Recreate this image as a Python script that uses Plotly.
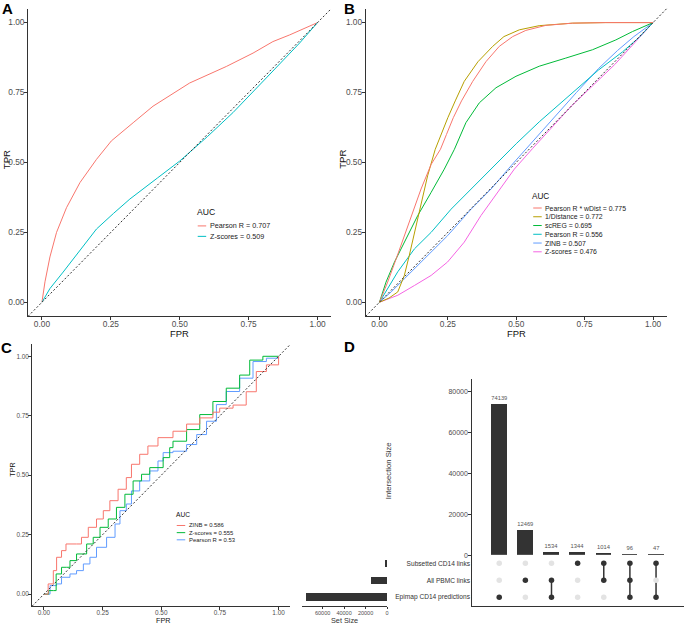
import plotly.graph_objects as go

# ---------------- data ----------------
roc_ticks = [0, 0.25, 0.5, 0.75, 1.0]
roc_tick_labels = ["0.00", "0.25", "0.50", "0.75", "1.00"]

# Panel A
a_names = ["Pearson R", "Z-scores"]
a_auc = ["0.707", "0.509"]
a_colors = ["#F8766D", "#00BFC4"]
a_pearson_fpr = [0, 0.011, 0.029, 0.053, 0.089, 0.138, 0.198, 0.252, 0.331, 0.403, 0.536, 0.669, 0.766, 0.838, 0.899, 1.0]
a_pearson_tpr = [0, 0.073, 0.162, 0.25, 0.338, 0.428, 0.511, 0.577, 0.642, 0.701, 0.784, 0.843, 0.891, 0.932, 0.956, 1.0]
a_zscore_fpr = [0, 0.029, 0.077, 0.14, 0.198, 0.26, 0.319, 0.42, 0.5, 0.6, 0.693, 0.814, 0.935, 1.0]
a_zscore_tpr = [0, 0.049, 0.108, 0.19, 0.262, 0.318, 0.369, 0.445, 0.505, 0.592, 0.678, 0.802, 0.927, 1.0]

# Panel B
b_names = ["Pearson R * wDist", "1/Distance", "scREG", "Pearson R", "ZINB", "Z-scores"]
b_auc = ["0.775", "0.772", "0.695", "0.556", "0.507", "0.476"]
b_colors = ["#F8766D", "#B79F00", "#00BA38", "#00BFC4", "#619CFF", "#F564E3"]
b_wdist_fpr = [0, 0.030, 0.061, 0.091, 0.122, 0.152, 0.189, 0.223, 0.245, 0.27, 0.30, 0.341, 0.389, 0.438, 0.487, 0.535, 0.608, 0.706, 0.827, 1.0]
b_wdist_tpr = [0, 0.072, 0.155, 0.238, 0.321, 0.405, 0.493, 0.547, 0.60, 0.66, 0.72, 0.79, 0.86, 0.915, 0.95, 0.972, 0.99, 0.998, 1.0, 1.0]
b_dist_fpr = [0, 0.035, 0.067, 0.091, 0.109, 0.128, 0.152, 0.176, 0.204, 0.225, 0.25, 0.277, 0.31, 0.36, 0.414, 0.455, 0.511, 0.584, 0.706, 0.827, 1.0]
b_dist_tpr = [0, 0.015, 0.037, 0.096, 0.167, 0.25, 0.357, 0.452, 0.547, 0.60, 0.66, 0.72, 0.79, 0.86, 0.915, 0.95, 0.974, 0.989, 0.998, 1.0, 1.0]
b_screg_fpr = [0, 0.024, 0.055, 0.091, 0.14, 0.189, 0.237, 0.274, 0.316, 0.365, 0.426, 0.499, 0.584, 0.681, 0.779, 0.864, 0.925, 1.0]
b_screg_tpr = [0, 0.072, 0.144, 0.215, 0.31, 0.393, 0.476, 0.547, 0.642, 0.713, 0.767, 0.808, 0.844, 0.873, 0.903, 0.938, 0.968, 1.0]
b_pearson_fpr = [0, 0.030, 0.067, 0.128, 0.189, 0.262, 0.347, 0.432, 0.50, 0.584, 0.66, 0.73, 0.80, 0.888, 0.95, 1.0]
b_pearson_tpr = [0, 0.049, 0.109, 0.191, 0.25, 0.333, 0.416, 0.499, 0.567, 0.645, 0.71, 0.768, 0.83, 0.895, 0.948, 1.0]
b_zinb_fpr = [0, 0.043, 0.091, 0.164, 0.249, 0.335, 0.408, 0.481, 0.56, 0.64, 0.72, 0.80, 0.87, 0.93, 1.0]
b_zinb_tpr = [0, 0.037, 0.084, 0.155, 0.238, 0.333, 0.405, 0.488, 0.575, 0.665, 0.75, 0.835, 0.9, 0.95, 1.0]
b_zscore_fpr = [0, 0.018, 0.067, 0.128, 0.189, 0.249, 0.31, 0.371, 0.432, 0.493, 0.56, 0.63, 0.70, 0.78, 0.86, 0.93, 1.0]
b_zscore_tpr = [0, 0.007, 0.025, 0.06, 0.096, 0.144, 0.215, 0.31, 0.393, 0.476, 0.55, 0.625, 0.70, 0.775, 0.85, 0.925, 1.0]

# Panel C
c_names = ["ZINB", "Z-scores", "Pearson R"]
c_auc = ["0.586", "0.555", "0.53"]
c_colors = ["#F8766D", "#00BA38", "#619CFF"]
c_zinb_fpr = [0, 0.018, 0.04, 0.054, 0.075, 0.094, 0.139, 0.16, 0.189, 0.224, 0.253, 0.281, 0.316, 0.351, 0.373, 0.408, 0.443, 0.486, 0.55, 0.608, 0.664, 0.72, 0.749, 0.806, 0.862, 0.905, 0.948, 1.0]
c_zinb_tpr = [0, 0.043, 0.099, 0.155, 0.183, 0.211, 0.211, 0.239, 0.281, 0.316, 0.351, 0.393, 0.441, 0.49, 0.546, 0.588, 0.623, 0.658, 0.685, 0.715, 0.741, 0.765, 0.782, 0.795, 0.851, 0.936, 0.964, 1.0]
c_zscore_fpr = [0, 0.02, 0.04, 0.052, 0.075, 0.097, 0.111, 0.139, 0.182, 0.21, 0.239, 0.274, 0.309, 0.345, 0.38, 0.416, 0.451, 0.508, 0.536, 0.55, 0.608, 0.664, 0.72, 0.777, 0.834, 0.877, 0.933, 1.0]
c_zscore_tpr = [0, 0.015, 0.015, 0.085, 0.113, 0.113, 0.141, 0.169, 0.211, 0.239, 0.281, 0.316, 0.365, 0.42, 0.476, 0.504, 0.532, 0.574, 0.616, 0.643, 0.692, 0.755, 0.81, 0.866, 0.921, 0.984, 1.0, 1.0]
c_pearson_fpr = [0, 0.026, 0.054, 0.075, 0.111, 0.139, 0.168, 0.196, 0.224, 0.267, 0.303, 0.324, 0.351, 0.373, 0.408, 0.451, 0.486, 0.508, 0.55, 0.608, 0.651, 0.693, 0.735, 0.777, 0.834, 0.891, 0.948, 1.0]
c_pearson_tpr = [0, 0.036, 0.043, 0.071, 0.085, 0.099, 0.127, 0.155, 0.197, 0.239, 0.295, 0.351, 0.379, 0.434, 0.476, 0.518, 0.56, 0.595, 0.601, 0.629, 0.671, 0.727, 0.797, 0.852, 0.908, 0.978, 0.992, 1.0]

# Panel D (UpSet)
set_names = ["Subsetted CD14 links", "All PBMC links", "Epimap CD14 predictions"]
set_sizes = [2501, 15113, 75816]
intersection_sizes = [74139, 12469, 1534, 1344, 1014, 96, 47]
intersection_members = [[2], [1], [1, 2], [0], [0, 1], [0, 1, 2], [0, 2]]
intersection_ticks = [0, 20000, 40000, 60000, 80000]
setsize_ticks = [0, 20000, 40000, 60000]

# ---------------- helpers ----------------
W, H = 685, 631
FONT = "Liberation Sans, Arial, sans-serif"


def px(x):
    return x / W


def py(y):
    return 1 - y / H


fig = go.Figure()
annotations = []
shapes = []


def add_line(fpr, tpr, color, n, shape="linear"):
    fig.add_trace(go.Scatter(x=fpr, y=tpr, mode="lines", line=dict(color=color, width=1, shape=shape),
                             xaxis="x" if n == 1 else f"x{n}", yaxis="y" if n == 1 else f"y{n}",
                             showlegend=False, hoverinfo="skip"))


add_line(a_pearson_fpr, a_pearson_tpr, a_colors[0], 1)
add_line(a_zscore_fpr, a_zscore_tpr, a_colors[1], 1)

b_series = [(b_wdist_fpr, b_wdist_tpr), (b_dist_fpr, b_dist_tpr), (b_screg_fpr, b_screg_tpr),
            (b_pearson_fpr, b_pearson_tpr), (b_zinb_fpr, b_zinb_tpr), (b_zscore_fpr, b_zscore_tpr)]
for (f, t), col in reversed(list(zip(b_series, b_colors))):
    add_line(f, t, col, 2)

c_series = [(c_zinb_fpr, c_zinb_tpr), (c_zscore_fpr, c_zscore_tpr), (c_pearson_fpr, c_pearson_tpr)]
for (f, t), col in reversed(list(zip(c_series, c_colors))):
    add_line(f, t, col, 3, "hv")


def roc_axes(n, x0, x1, y_lo, y_hi, fsize, ystand, xstand):
    sx = (x1 - x0)
    sy = (y_lo - y_hi)
    xd = [px(x0 - 0.05 * sx), px(x0 + 1.05 * sx)]
    yd = [py(y_lo + 0.05 * sy), py(y_lo - 1.05 * sy)]
    base = dict(range=[-0.05, 1.05], showgrid=False, zeroline=False, showline=True,
                linecolor="#333", linewidth=1, ticks="outside", ticklen=3, tickcolor="#333",
                tickwidth=1, tickvals=roc_ticks, ticktext=roc_tick_labels,
                tickfont=dict(size=fsize, color="#4d4d4d", family=FONT), fixedrange=True)
    xn = "xaxis" if n == 1 else f"xaxis{n}"
    yn = "yaxis" if n == 1 else f"yaxis{n}"
    fig.update_layout({xn: dict(base, domain=xd, anchor="y" if n == 1 else f"y{n}", ticklabelstandoff=xstand),
                       yn: dict(base, domain=yd, anchor="x" if n == 1 else f"x{n}", ticklabelstandoff=ystand)})
    xr = "x" if n == 1 else f"x{n}"
    yr = "y" if n == 1 else f"y{n}"
    shapes.append(dict(type="line", xref=f"{xr} domain", yref=f"{yr} domain", x0=0, y0=0, x1=1, y1=1,
                       line=dict(color="#333", width=1, dash="2px,2px")))


roc_axes(1, 42, 318, 303.7, 22.7, 8.3, -2, -3)
roc_axes(2, 380, 654, 303.7, 22.7, 8.3, -2, -3)
roc_axes(3, 44, 279, 597, 358, 6.4, -2, -3)


def text(x, y, s, size, color="#222", anchor="center", angle=0, bold=False):
    annotations.append(dict(text=f"<b>{s}</b>" if bold else s, x=px(x), y=py(y), xref="paper", yref="paper",
                            xanchor=anchor, yanchor="middle", showarrow=False, textangle=angle,
                            borderpad=0, font=dict(size=size, color=color, family=FONT)))


def legend(x0, y_title, y_first, gap, names, aucs, colors, tsize, fsize):
    text(x0 - 1, y_title, "AUC", tsize, "#111", "left")
    for i, (nm, au, col) in enumerate(zip(names, aucs, colors)):
        yy = y_first + i * gap
        shapes.append(dict(type="line", xref="paper", yref="paper", x0=px(x0 + 1), x1=px(x0 + 9.5),
                           y0=py(yy), y1=py(yy), line=dict(color=col, width=1)))
        text(x0 + 12, yy, f"{nm} = {au}", fsize, "#222", "left")


legend(197, 213, 227, 10.5, a_names, a_auc, a_colors, 8.6, 7.2)
legend(533, 197, 209, 8.8, b_names, b_auc, b_colors, 8.2, 6.9)
legend(176, 517, 528, 7.2, c_names, c_auc, c_colors, 6.6, 5.9)

# axis titles and panel letters
text(6, 160, "TPR", 9.6, "#111", angle=-90)
text(180, 335, "FPR", 9.4, "#111")
text(343, 160, "TPR", 9.6, "#111", angle=-90)
text(517, 335, "FPR", 9.4, "#111")
text(13, 472, "TPR", 7.2, "#111", angle=-90)
text(163, 623, "FPR", 7.2, "#111")
text(8, 9, "A", 15, "#000", bold=True)
text(350, 9, "B", 15, "#000", bold=True)
text(7, 349, "C", 15, "#000", bold=True)
text(350, 348, "D", 15, "#000", bold=True)

# ---------------- UpSet panel ----------------
n_int = len(intersection_sizes)
cols = list(range(1, n_int + 1))
row_pos = {0: 2, 1: 1, 2: 0}  # set index -> y position in matrix

fig.add_trace(go.Bar(x=cols, y=intersection_sizes, width=0.6, marker=dict(color="#333333", line=dict(width=0)),
                     text=[str(v) for v in intersection_sizes], textposition="outside", cliponaxis=False,
                     textfont=dict(size=5.8, color="#555", family=FONT),
                     xaxis="x4", yaxis="y4", showlegend=False, hoverinfo="skip"))

dx, dy, dc = [], [], []
for c, members in zip(cols, intersection_members):
    for s in range(len(set_names)):
        dx.append(c)
        dy.append(row_pos[s])
        dc.append("#333333" if s in members else "#e3e3e3")
lx, ly = [], []
for c, members in zip(cols, intersection_members):
    if len(members) > 1:
        ys = [row_pos[s] for s in members]
        lx += [c, c, None]
        ly += [min(ys), max(ys), None]
fig.add_trace(go.Scatter(x=lx, y=ly, mode="lines", line=dict(color="#333333", width=1.5),
                         xaxis="x5", yaxis="y5", showlegend=False, hoverinfo="skip"))
fig.add_trace(go.Scatter(x=dx, y=dy, mode="markers", marker=dict(size=5.5, color=dc, line=dict(width=0)),
                         xaxis="x5", yaxis="y5", showlegend=False, hoverinfo="skip"))

fig.add_trace(go.Bar(x=set_sizes, y=[row_pos[s] for s in range(len(set_names))], orientation="h", width=0.45,
                     marker=dict(color="#333333", line=dict(width=0)),
                     xaxis="x6", yaxis="y6", showlegend=False, hoverinfo="skip"))

xr_int = [-0.03, 8.07]
fig.update_layout(
    xaxis4=dict(domain=[px(473), 1.0], range=xr_int, anchor="y4", showline=False, showgrid=False,
                zeroline=False, showticklabels=False, ticks="", fixedrange=True),
    yaxis4=dict(domain=[py(558), py(381)], range=[-60, 86240], anchor="x4", showline=True, linecolor="#333",
                linewidth=1, showgrid=False, zeroline=False, ticks="outside", ticklen=3, tickcolor="#333",
                tickvals=intersection_ticks, ticktext=[str(v) for v in intersection_ticks], ticklabelstandoff=-1,
                tickfont=dict(size=7, color="#4d4d4d", family=FONT), fixedrange=True),
    xaxis5=dict(domain=[px(473), 1.0], range=xr_int, anchor="y5", showline=True, linecolor="#333", linewidth=1,
                showgrid=False, zeroline=False, showticklabels=False, ticks="", fixedrange=True),
    yaxis5=dict(domain=[py(608.5), py(557.5)], range=[-0.5, 2.5], anchor="x5", showline=True, linecolor="#333",
                linewidth=1, showgrid=False, zeroline=False, ticks="",
                tickvals=[row_pos[s] for s in range(len(set_names))], ticktext=set_names,
                tickfont=dict(size=6.6, color="#333", family=FONT), fixedrange=True),
    xaxis6=dict(domain=[px(302), px(388)], range=[79600, -400], anchor="y6", showline=True, linecolor="#333",
                linewidth=1, showgrid=False, zeroline=False, ticks="outside", ticklen=2.5, tickcolor="#333",
                tickvals=setsize_ticks, ticktext=[str(v) for v in setsize_ticks], ticklabelstandoff=-1,
                tickfont=dict(size=5.5, color="#4d4d4d", family=FONT), fixedrange=True),
    yaxis6=dict(domain=[py(608.5), py(557.5)], range=[-0.5, 2.5], anchor="x6", showline=False, showgrid=False,
                zeroline=False, showticklabels=False, ticks="", fixedrange=True),
)

for s in (0, 2):
    shapes.append(dict(type="rect", xref="x5 domain", yref="y5", x0=0, x1=1, y0=row_pos[s] - 0.5,
                       y1=row_pos[s] + 0.5, fillcolor="#f1f1f1", line=dict(width=0), layer="below"))

text(345, 623, "Set Size", 7.3, "#333")
text(389, 473, "Intersection Size", 7.7, "#333", angle=-90)

fig.update_layout(width=W, height=H, margin=dict(l=0, r=0, t=0, b=0), paper_bgcolor="white",
                  plot_bgcolor="white", showlegend=False, annotations=annotations, shapes=shapes,
                  font=dict(family=FONT), bargap=0)

fig.write_html("out.html", config={"displayModeBar": False},
               post_script="document.body.style.margin='0';document.body.style.overflow='hidden';")
